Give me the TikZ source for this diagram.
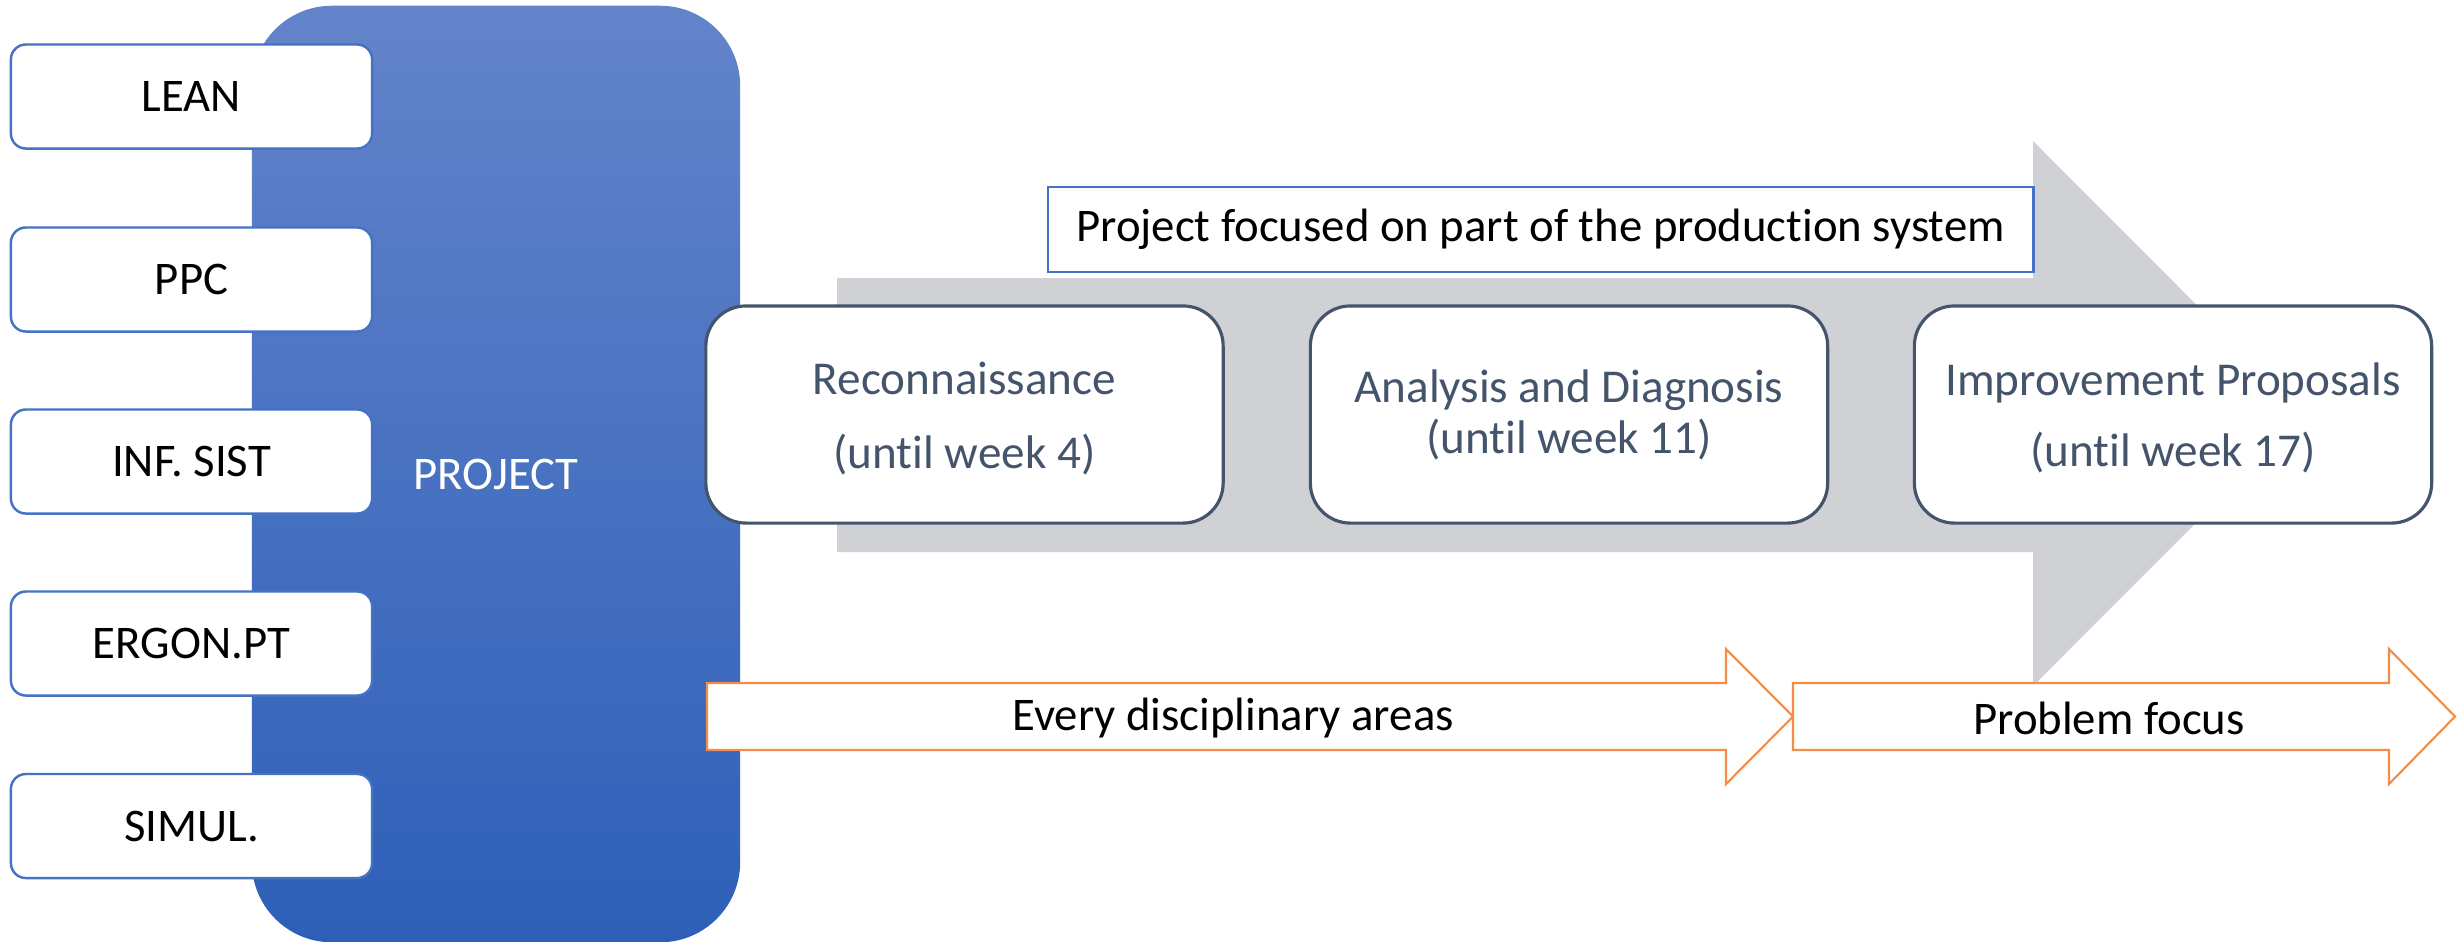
\documentclass[tikz,border=0pt]{standalone}
\usepackage{fontspec}
\setmainfont{Carlito}[Ligatures=CommonOff]
\definecolor{projtop}{RGB}{99,132,202}
\definecolor{projbot}{RGB}{46,95,184}
\definecolor{boxblue}{RGB}{68,114,196}
\definecolor{slate}{RGB}{68,84,106}
\definecolor{arrowgray}{RGB}{207,209,213}
\definecolor{orangeline}{RGB}{242,140,70}
\tikzset{
  basefont/.style={font=\fontsize{13.3}{16}\selectfont},
  projbox/.style={top color=projtop, bottom color=projbot, draw=none, rounded corners=0.8cm,
    minimum width=4.88cm, minimum height=9.36cm, inner sep=0pt, text=white, basefont},
  discbox/.style={draw=boxblue, line width=0.7pt, fill=white, rounded corners=0.15cm,
    minimum width=3.61cm, minimum height=1.04cm, inner sep=0pt, basefont},
  labelbox/.style={draw=boxblue, line width=0.7pt, fill=white,
    minimum width=9.85cm, minimum height=0.85cm, inner sep=0pt, basefont},
  stagebox/.style={draw=slate, line width=0.9pt, fill=white, rounded corners=0.4cm,
    minimum width=5.17cm, minimum height=2.17cm, inner sep=0pt},
  stagetext/.style={inner sep=0pt, text=slate, align=center},
  orangearrow/.style={draw=orangeline, line width=0.6pt, fill=white},
  plaintext/.style={inner sep=0pt, basefont}
}
\begin{document}
\begin{tikzpicture}[x=0.01cm,y=-0.01cm]
\useasboundingbox (0,0) rectangle (2461,941);
\fill[white] (0,0) rectangle (2461,941);
% project column
\node[projbox] (project) at (496,474) {PROJECT};
% discipline boxes
\node[discbox] (lean)  at (191.5,96.5)  {LEAN};
\node[discbox] (ppc)   at (191.5,279.5) {PPC};
\node[discbox] (inf)   at (191.5,461.5) {INF. SIST};
\node[discbox] (ergon) at (191.5,643.5) {ERGON.PT};
\node[discbox] (simul) at (191.5,826)   {SIMUL.};
% big gray arrow
\fill[arrowgray] (837,278) -- (2033,278) -- (2033,141) -- (2305,413.5) -- (2033,686)
  -- (2033,552) -- (837,552) -- cycle;
% label
\node[labelbox] (focus) at (1540.5,229.5) {Project focused on part of the production system};
% stages
\node[stagebox] (recon) at (964.5,414.5) {};
\node[stagebox] (anal)  at (1569,414.5)  {};
\node[stagebox] (impr)  at (2173,414.5)  {};
\node[stagetext, font=\fontsize{13.4}{21}\selectfont] (recontext) at ([yshift=-0.04cm]recon.center)
  {Reconnaissance\\(until week 4)};
\node[stagetext, font=\fontsize{13.4}{14.5}\selectfont] (analtext) at (anal.center)
  {Analysis and Diagnosis\\(until week 11)};
\node[stagetext, font=\fontsize{13.4}{20.2}\selectfont] (imprtext) at ([yshift=-0.03cm]impr.center)
  {Improvement Proposals\\(until week 17)};
% orange arrows
\draw[orangearrow] (707,683) -- (1726,683) -- (1726,649) -- (1793,716.5) -- (1726,784)
  -- (1726,750) -- (707,750) -- cycle;
\draw[orangearrow] (1793,683) -- (2389,683) -- (2389,649) -- (2455,716.5) -- (2389,784)
  -- (2389,750) -- (1793,750) -- cycle;
\node[plaintext] (every) at (1233,718) {Every disciplinary areas};
\node[plaintext] (problem) at (2109,718) {Problem focus};
\end{tikzpicture}
\end{document}
